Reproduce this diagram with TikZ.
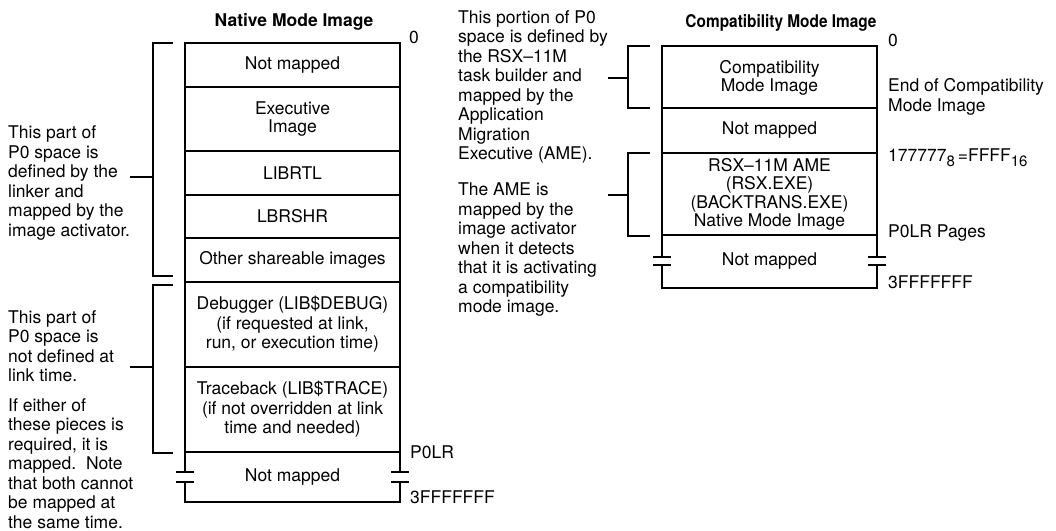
\documentclass[tikz,border=0pt]{standalone}
\usepackage{fontspec}
\setmainfont{TeX Gyre Heros}
\newcommand\dgfs{\fontsize{17.5}{19.5}\selectfont}
\newcommand\dgsub[1]{\raisebox{-0.55ex}{\fontsize{15}{15}\selectfont #1}}
\begin{document}
\begin{tikzpicture}[x=1pt,y=-1pt,
  outline/.style={line width=2.1pt},
  tick/.style={line width=2.6pt},
  brk/.style={line width=2.1pt},
  rowtext/.style={inner sep=0pt, align=center, font=\dgfs},
  para/.style={inner sep=0pt, align=left, anchor=north west, font=\dgfs},
  lbl/.style={inner sep=0pt, anchor=base west, font=\dgfs},
  lblml/.style={inner sep=0pt, align=left, anchor=north west, font=\dgfs},
  title/.style={inner sep=0pt, font=\dgfs\bfseries}]
\useasboundingbox (0,0) rectangle (1056,530);
\fill[white] (0,0) rectangle (1056,530);

% ---------- Native mode image ----------
\node[title] (ntitle) at (294,22) {Native Mode Image};
\draw[outline] (185,472) -- (185,43) -- (400,43) -- (400,472);
\draw[outline] (185,482) -- (185,502) -- (400,502) -- (400,482);
\foreach \yy in {87,151,195,238,282,367,452}{\draw[outline] (185,\yy) -- (400,\yy);}
\foreach \xx in {185,400}{
  \draw[tick] (\xx-9,472) -- (\xx+9,472);
  \draw[tick] (\xx-9,482) -- (\xx+9,482);}
\node[rowtext] (n1) at (292.5,65) {Not mapped};
\node[rowtext] (n2) at (292.5,119) {Executive\\[-1.5pt]Image};
\node[rowtext] (n3) at (292.5,173) {LIBRTL};
\node[rowtext] (n4) at (292.5,216.5) {LBRSHR};
\node[rowtext] (n5) at (292.5,260) {Other shareable images};
\node[rowtext] (n6) at (292.5,324.5) {Debugger (LIB\$DEBUG)\\(if requested at link,\\run, or execution time)};
\node[rowtext] (n7) at (292.5,409.5) {Traceback (LIB\$TRACE)\\(if not overridden at link\\time and needed)};
\node[rowtext] (n8) at (292.5,477) {Not mapped};

\node[lbl] (n0) at (409,43) {0};
\node[lbl] (nlr) at (410,458) {P0LR};
\node[lbl] (nend) at (410,503) {3FFFFFFF};

% left brackets
\draw[brk] (173,43) -- (153,43) -- (153,276) -- (173,276);
\draw[brk] (173,285) -- (153,285) -- (153,453) -- (173,453);
\node[para] (t1) at (8,125.5) {This part of\\P0 space is\\defined by the\\linker and\\mapped by the\\image activator.};
\node[para] (t2) at (8,310) {This part of\\P0 space is\\not defined at\\link time.};
\node[para] (t3) at (8,398) {\fontsize{17.5}{19}\selectfont If either of\\these pieces is\\required, it is\\mapped.\ \ Note\\that both cannot\\be mapped at\\the same time.};
\coordinate (s1) at (130,177); \coordinate (k1) at (153,177);
\coordinate (s2) at (130,367); \coordinate (k2) at (153,367);
\draw[brk] (s1) -- (k1);
\draw[brk] (s2) -- (k2);

% ---------- middle text ----------
\node[para] (m1) at (458,10) {This portion of P0\\space is defined by\\the RSX--11M\\task builder and\\mapped by the\\Application\\Migration\\Executive (AME).};
\node[para] (m2) at (458,183) {The AME is\\mapped by the\\image activator\\when it detects\\that it is activating\\a compatibility\\mode image.};

% ---------- Compatibility mode image ----------
\node[title] (ctitle) at (781,23) {\scalebox{0.88}[1]{Compatibility Mode Image}};
\draw[outline] (662,257) -- (662,46) -- (877,46) -- (877,257);
\draw[outline] (662,265) -- (662,288) -- (877,288) -- (877,265);
\foreach \yy in {108,153,235}{\draw[outline] (662,\yy) -- (877,\yy);}
\foreach \xx in {662,877}{
  \draw[tick] (\xx-9,257) -- (\xx+9,257);
  \draw[tick] (\xx-9,265) -- (\xx+9,265);}
\node[rowtext] (c1) at (769.5,78) {Compatibility\\[-1.5pt]Mode Image};
\node[rowtext] (c2) at (769.5,130.5) {Not mapped};
\node[rowtext] (c3) at (769.5,194.5) {RSX--11M AME\\[-1pt](RSX.EXE)\\[-1pt](BACKTRANS.EXE)\\[-1pt]Native Mode Image};
\node[rowtext] (c4) at (769.5,261.5) {Not mapped};

\node[lbl] (c0) at (888,46) {0};
\node[lblml] (cend) at (888,78.5) {End of Compatibility\\Mode Image};
\node[lbl] (c8) at (888,161) {177777\dgsub{8}\,=FFFF\dgsub{16}};
\node[lbl] (clr) at (888,237) {P0LR Pages};
\node[lbl] (cff) at (888,288) {3FFFFFFF};

\draw[brk] (650,46) -- (628,46) -- (628,108) -- (650,108);
\draw[brk] (650,153) -- (628,153) -- (628,236) -- (650,236);
\coordinate (s3) at (608,78); \coordinate (k3) at (628,78);
\coordinate (s4) at (608,195); \coordinate (k4) at (628,195);
\draw[brk] (s3) -- (k3);
\draw[brk] (s4) -- (k4);
\end{tikzpicture}
\end{document}
